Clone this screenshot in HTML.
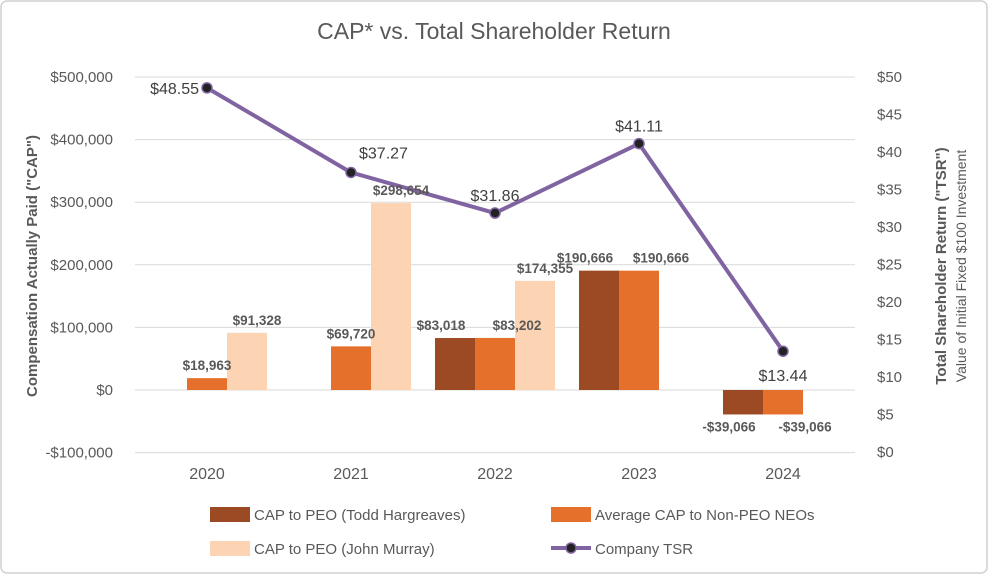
<!DOCTYPE html>
<html><head><meta charset="utf-8"><style>
body{margin:0;background:#fff;}
svg{display:block;font-family:"Liberation Sans",Arial,sans-serif;}
</style></head><body>
<svg id="chart" width="988" height="574" viewBox="0 0 988 574">
<rect x="1" y="1" width="986" height="572" rx="6" fill="#fff" stroke="#d0d0d0" stroke-width="1.5"/>
<text x="494" y="39" text-anchor="middle" font-size="23" fill="#595959">CAP* vs. Total Shareholder Return</text>
<g id="grid"></g><g id="bars"></g><g id="line"></g><g id="labels"></g><g id="axes"></g>
<text transform="translate(37,266) rotate(-90)" text-anchor="middle" font-size="15" font-weight="bold" fill="#595959">Compensation Actually Paid ("CAP")</text>
<text transform="translate(946,266) rotate(-90)" text-anchor="middle" font-size="15" font-weight="bold" fill="#595959">Total Shareholder Return ("TSR")</text>
<text transform="translate(966,266) rotate(-90)" text-anchor="middle" font-size="14" fill="#595959">Value of Initial Fixed $100 Investment</text>
<g font-size="15" fill="#595959">
<rect x="210" y="507" width="40" height="15" fill="#9b4a24"/>
<text x="254" y="520">CAP to PEO (Todd Hargreaves)</text>
<rect x="551" y="507" width="40" height="15" fill="#e5702b"/>
<text x="595" y="520">Average CAP to Non-PEO NEOs</text>
<rect x="210" y="541" width="40" height="15" fill="#fcd4b4"/>
<text x="254" y="554">CAP to PEO (John Murray)</text>
<line x1="551" y1="548" x2="591" y2="548" stroke="#8064a2" stroke-width="4"/>
<circle cx="571" cy="548" r="5" fill="#222" stroke="#8064a2" stroke-width="1.5"/>
<text x="595" y="554">Company TSR</text>
</g>
</svg>
<script>
const categories=["2020","2021","2022","2023","2024"];
const peoHargreaves=[null,null,83018,190666,-39066];
const nonPeo=[18963,69720,83202,190666,-39066];
const peoMurray=[91328,298654,174355,null,null];
const tsr=[48.55,37.27,31.86,41.11,13.44];
const leftTicks=[-100000,0,100000,200000,300000,400000,500000];
const rightTicks=[0,5,10,15,20,25,30,35,40,45,50];
const NS="http://www.w3.org/2000/svg";
const x0=135,step=144,bw=40;
function yL(v){return 390-(v/100000)*62.6;}
function yR(v){return 452-v*7.5;}
function xC(i){return x0+step*(i+0.5);}
function mk(tag,attrs,parent,txt){const e=document.createElementNS(NS,tag);for(const k in attrs)e.setAttribute(k,attrs[k]);if(txt!==undefined)e.textContent=txt;document.getElementById(parent).appendChild(e);return e;}
function fmt(v){const s="$"+Math.abs(v).toLocaleString("en-US");return v<0?"-"+s:s;}
leftTicks.forEach(t=>{
 const g=mk("line",{x1:x0,x2:x0+step*5,y1:yL(t),y2:yL(t),stroke:"#d9d9d9","stroke-width":1},"grid");
 
 
 const l=mk("text",{x:113,y:yL(t)+5,"text-anchor":"end","font-size":15,fill:"#595959"},"axes",fmt(t));
 
 
});
rightTicks.forEach(t=>{
 const l=mk("text",{x:877,y:yR(t)+5,"font-size":15,fill:"#595959"},"axes","$"+t);
 
 
});
categories.forEach((c,i)=>{
 const l=mk("text",{x:xC(i),y:479,"text-anchor":"middle","font-size":16,fill:"#595959"},"axes",c);
 
 
});
const series=[[peoHargreaves,"#9b4a24","bar-peo-hargreaves"],[nonPeo,"#e5702b","bar-non-peo"],[peoMurray,"#fcd4b4","bar-peo-murray"]];
series.forEach(([arr,col,name],s)=>{
 arr.forEach((v,i)=>{
  if(v===null)return;
  const x=xC(i)-60+s*bw;const y1=yL(Math.max(v,0)),y2=yL(Math.min(v,0));
  const r=mk("rect",{x:x,y:y1,width:bw,height:y2-y1,fill:col},"bars");
  
  
  const ty=v>=0?y1-8:y2+17;
  let lx=x+bw/2;
  if(s===0&&nonPeo[i]!==null&&Math.abs(yL(nonPeo[i])-yL(v))<16)lx-=14;
  if(s===1&&peoHargreaves[i]!==null&&Math.abs(yL(peoHargreaves[i])-yL(v))<16)lx+=22;
  if(s===2)lx+=10;
  const t=mk("text",{x:lx,y:ty,"text-anchor":"middle","font-size":13.5,"font-weight":"bold",fill:"#595959"},"labels",fmt(v));
  
  
 });
});
const pts=tsr.map((v,i)=>xC(i)+","+yR(v)).join(" ");
const pl=mk("polyline",{points:pts,fill:"none",stroke:"#8064a2","stroke-width":4,"stroke-linejoin":"round"},"line");


tsr.forEach((v,i)=>{
 const c=mk("circle",{cx:xC(i),cy:yR(v),r:5,fill:"#222",stroke:"#8064a2","stroke-width":1.5},"line");
 
 
 let tx=xC(i),ty=yR(v)-12,anchor="middle";
 if(i===0){tx=xC(i)-8;ty=yR(v)+6;anchor="end";}
 if(i===1){tx=xC(i)+8;ty=yR(v)-14;anchor="start";}
 if(i===4){ty=yR(v)+30;}
 const t=mk("text",{x:tx,y:ty,"text-anchor":anchor,"font-size":16,fill:"#404040"},"line","$"+v.toFixed(2));
 
 
});
</script>
</body></html>
